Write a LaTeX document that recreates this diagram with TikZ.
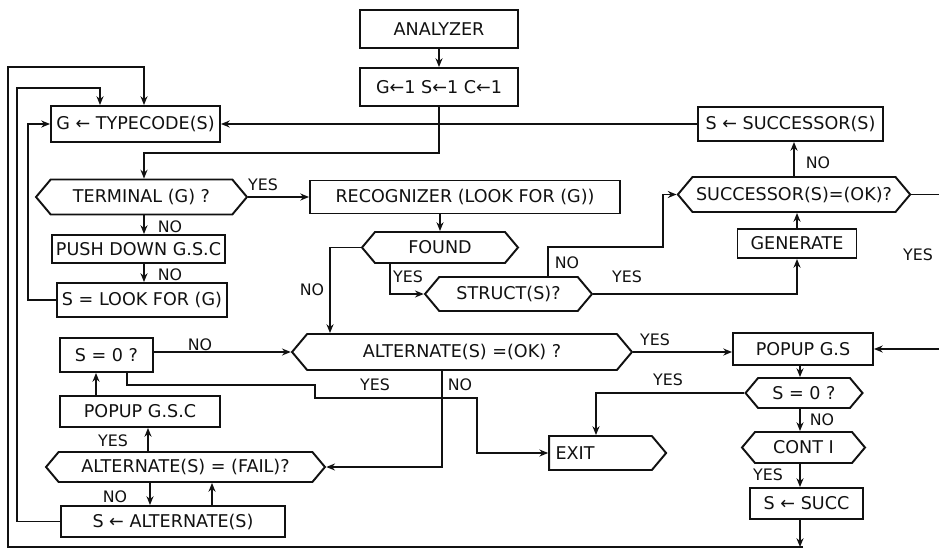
\documentclass[tikz,border=0pt]{standalone}
\usepackage{fontspec}
\setmainfont{DejaVu Sans}
\usetikzlibrary{arrows.meta, shapes.symbols}
\definecolor{cInk}{HTML}{111111}

\begin{document}
\begin{tikzpicture}[
  x=0.02cm, y=-0.02cm,
  line width=0.9pt, color=cInk,
  pbox/.style={rectangle, draw, line width=1.1pt, inner sep=2pt},
  hexbox/.style={signal, signal to=east and west, signal pointer angle=100,
                 draw, line width=1.1pt, inner sep=2pt},
  exitbox/.style={signal, signal to=east, signal pointer angle=100,
                  draw, line width=1.1pt, inner sep=2pt,
                  text width=1.8cm, align=left},
  arr/.style={-{Stealth[length=5pt, width=4pt]}},
  lbl/.style={font=\small},
]
\useasboundingbox (0,0) rectangle (939,551);

\node[pbox, minimum width=3.16cm, minimum height=0.76cm] (analyzer) at (439,29) {ANALYZER};
\node[pbox, minimum width=3.16cm, minimum height=0.76cm] (init) at (439,87) {G←1 S←1 C←1};
\node[pbox, minimum width=3.38cm, minimum height=0.72cm] (typecode) at (135.5,124) {G ← TYPECODE(S)};
\node[hexbox, minimum width=4.22cm, minimum height=0.70cm] (terminal) at (141.5,197) {TERMINAL (G) ?};
\node[pbox, minimum width=6.2cm, minimum height=0.66cm] (recog) at (465,197) {RECOGNIZER (LOOK FOR (G))};
\node[pbox, minimum width=3.26cm, minimum height=0.56cm] (pushdown) at (138.5,249) {PUSH DOWN G.S.C};
\node[pbox, minimum width=3.4cm, minimum height=0.68cm] (lookfor) at (142,300) {S = LOOK FOR (G)};
\node[hexbox, minimum width=3.12cm, minimum height=0.62cm] (found) at (440,247.5) {FOUND};
\node[hexbox, minimum width=3.34cm, minimum height=0.68cm] (struct) at (508.5,294) {STRUCT(S)?};
\node[pbox, minimum width=2.38cm, minimum height=0.58cm] (generate) at (797,243.5) {GENERATE};
\node[hexbox, minimum width=4.04cm, minimum height=0.70cm] (succok) at (794,194.5) {SUCCESSOR(S)=(OK)?};
\node[pbox, minimum width=3.70cm, minimum height=0.68cm] (succbox) at (790.5,124) {S ← SUCCESSOR(S)};
\node[hexbox, minimum width=6.8cm, minimum height=0.72cm] (altok) at (462,352) {ALTERNATE(S) =(OK) ?};
\node[pbox, minimum width=1.86cm, minimum height=0.68cm] (szero) at (106.5,355) {S = 0 ?};
\node[pbox, minimum width=2.8cm, minimum height=0.64cm] (popgs) at (803,349) {POPUP G.S};
\node[hexbox, minimum width=2.34cm, minimum height=0.60cm] (szerob) at (804,393) {S = 0 ?};
\node[exitbox, minimum width=2.34cm, minimum height=0.68cm] (exit) at (600.5,453) {EXIT};
\node[hexbox, minimum width=2.46cm, minimum height=0.62cm] (cont) at (803.5,447.5) {CONT I};
\node[pbox, minimum width=2.26cm, minimum height=0.62cm] (ssucc) at (806.5,503.5) {S ← SUCC};
\node[pbox, minimum width=3.2cm, minimum height=0.62cm] (popgsc) at (140,411.5) {POPUP G.S.C};
\node[hexbox, minimum width=5.58cm, minimum height=0.60cm] (fail) at (185.5,467) {ALTERNATE(S) = (FAIL)?};
\node[pbox, minimum width=4.48cm, minimum height=0.62cm] (salt) at (173,521.5) {S ← ALTERNATE(S)};

\coordinate (bot) at (803,547);
\coordinate (outA) at (939,194.5);
\coordinate (outB) at (939,349);

\draw[arr] (analyzer) -- (init);
\draw[arr] (init.south) |- (144,153) -- (terminal.north -| 144,0);
\draw[arr] (succbox) -- (typecode);
\draw[arr] (terminal.east) -- (recog.west);
\draw[arr] (terminal.south -| 144,0) -- (pushdown.north -| 144,0);
\draw[arr] (pushdown.south -| 144,0) -- (lookfor.north -| 144,0);
\draw[arr] (lookfor.west) -- ++(-28,0) |- (typecode.west);
\draw[arr] (salt.west) -- ++(-43,0) |- (100,88) -- (typecode.north -| 100,0);
\draw[arr] (ssucc.south -| 800,0) -- (bot -| 800,0);
\draw[arr] (bot) -| (8,67) -| (typecode.north -| 144,0);

\draw[arr] (recog.south -| found.north) -- (found.north);
\draw[arr] (found.west) -| (altok.north -| 330,0);
\draw[arr] (found.south -| 390,0) |- (struct.west);
\draw[arr] (struct.north -| 548,0) |- (663,247) |- (succok.west);
\draw[arr] (struct.east) -| (generate.south);
\draw[arr] (generate.north) -- (succok.south -| generate.north);
\draw[arr] (succok.north) -- (succbox.south -| succok.north);
\draw (succok.east) -- (outA);
\draw[arr] (outB) -- (popgs.east);

\draw[arr] (altok.east) -- (popgs.west |- altok.east);
\draw[arr] (szero.east |- altok.west) -- (altok.west);
\draw[arr] (szero.south -| 127,0) |- (315,385) |- (477,398) |- (exit.west);
\draw[arr] (altok.south -| 442,0) |- (fail.east);
\draw[arr] (popgs.south -| 800,0) -- (szerob.north -| 800,0);
\draw[arr] (szerob.west) -| (exit.north -| 596,0);
\draw[arr] (szerob.south -| 800,0) -- (cont.north -| 800,0);
\draw[arr] (cont.south -| 800,0) -- (ssucc.north -| 800,0);

\draw[arr] (popgsc.north -| 96,0) -- (szero.south -| 96,0);
\draw[arr] (fail.north -| 148,0) -- (popgsc.south -| 148,0);
\draw[arr] (fail.south -| 150,0) -- (salt.north -| 150,0);
\draw[arr] (salt.north -| 212,0) -- (fail.south -| 212,0);

\node[lbl] (yes1) at (263,185) {YES};
\node[lbl] (no1) at (170,227) {NO};
\node[lbl] (no2) at (170,275) {NO};
\node[lbl] (no3) at (312,290) {NO};
\node[lbl] (yes2) at (408,277) {YES};
\node[lbl] (no4) at (567,263) {NO};
\node[lbl] (yes3) at (627,277) {YES};
\node[lbl] (no5) at (818,163) {NO};
\node[lbl] (yes4) at (918,255) {YES};
\node[lbl] (yes5) at (655,340) {YES};
\node[lbl] (no6) at (200,345) {NO};
\node[lbl] (yes6) at (375,385) {YES};
\node[lbl] (no7) at (460,385) {NO};
\node[lbl] (yes7) at (668,380) {YES};
\node[lbl] (no8) at (822,420) {NO};
\node[lbl] (yes8) at (768,475) {YES};
\node[lbl] (yes9) at (113,441) {YES};
\node[lbl] (no9) at (115,497) {NO};

\end{tikzpicture}
\end{document}
